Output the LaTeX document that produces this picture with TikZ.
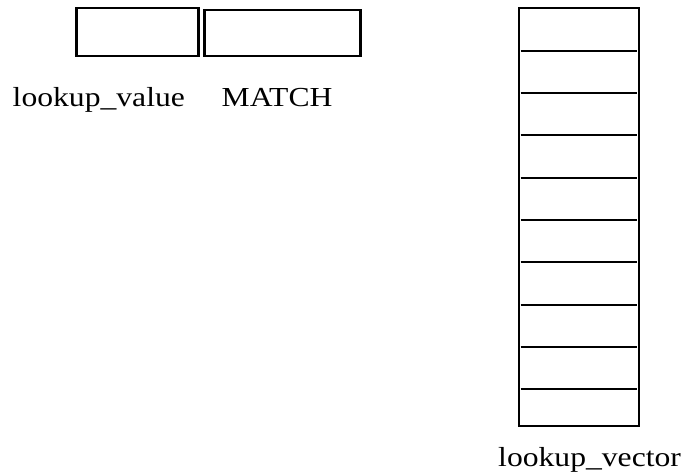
\documentclass[tikz,border=0pt]{standalone}
\usepackage{fontspec}
\setmainfont{Liberation Serif}
\usetikzlibrary{calc}
\tikzset{
	cellbox/.style={draw, line width=2.5pt, inner sep=0pt, anchor=north west},
	tag/.style={anchor=base west, inner sep=0pt, xscale=1.15, font=\fontsize{27.5}{33}\selectfont}
}

\begin{document}
\begin{tikzpicture}[x=1pt, y=-1pt]
	\useasboundingbox (0,0) rectangle (685,476);
	\node[cellbox, minimum width=122pt, minimum height=48pt] (valbox) at (75,7) {};
	\node[cellbox, minimum width=156pt, minimum height=46pt] (matchbox) at (203,9) {};
	\node[tag] (valtag) at (12.5,107) {lookup\_value};
	\node[tag] (matchtag) at (221.5,107) {MATCH};
	\coordinate (V1) at (518.5,8);
	\coordinate (V2) at (639,426);
	\draw[line width=2pt] (V1) rectangle (V2);
	\foreach \k in {0,...,8}
		\draw[line width=2pt] ($(V1)+(2,42.7+42.3*\k)$) -- ($(V1)+(118.5,42.7+42.3*\k)$);
	\node[tag] (vectag) at (498,466.5) {lookup\_vector};
\end{tikzpicture}
\end{document}
